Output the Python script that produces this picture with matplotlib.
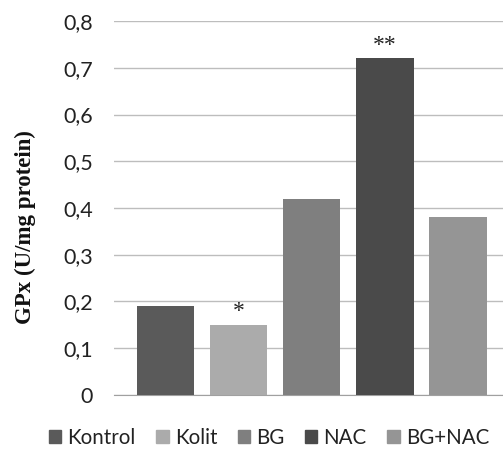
import matplotlib
matplotlib.use("Agg")
import matplotlib.pyplot as plt
from matplotlib.patches import Patch

groups = ["Kontrol", "Kolit", "BG", "NAC", "BG+NAC"]
gpx = [0.19, 0.15, 0.42, 0.72, 0.38]
marks = ["", "*", "", "**", ""]
colors = ["#5a5a5a", "#ababab", "#7f7f7f", "#4a4a4a", "#959595"]
yticks = [0, 0.1, 0.2, 0.3, 0.4, 0.5, 0.6, 0.7, 0.8]
ytick_labels = ["0", "0,1", "0,2", "0,3", "0,4", "0,5", "0,6", "0,7", "0,8"]

fig = plt.figure(figsize=(5.03, 4.54), dpi=100)
ax = fig.add_axes([0.2266, 0.13, 0.7734, 0.8237])

x = range(len(groups))
ax.bar(x, gpx, width=0.79, color=colors, zorder=3)
for xi, v, m in zip(x, gpx, marks):
    if m:
        ax.text(xi, v + 0.006, m, ha="center", va="bottom", fontsize=17,
                family="Liberation Serif", color="#222222", zorder=4)

ax.set_xlim(-0.705, 4.62)
ax.set_ylim(0, 0.8)
ax.set_yticks(yticks)
ax.set_yticklabels(ytick_labels, family="Lato", fontsize=15.5, color="#222222")
ax.tick_params(axis="y", length=0, pad=15)
ax.set_xticks([])
ax.yaxis.grid(True, color="#bdbdbd", lw=1, zorder=0)
for s in ["top", "right", "left"]:
    ax.spines[s].set_visible(False)
ax.spines["bottom"].set_color("#a0a0a0")
ax.spines["bottom"].set_zorder(2)

ax.set_ylabel("GPx (U/mg protein)", family="Liberation Serif", fontweight="bold",
              fontsize=16.5, color="#111111")
ax.yaxis.set_label_coords(-0.2, 0.45)

handles = [Patch(color=c, label=g) for c, g in zip(colors, groups)]
fig.legend(handles=handles, loc="center", bbox_to_anchor=(0.535, 0.035), ncol=5,
           frameon=False, prop={"family": "Lato", "size": 14.8},
           handlelength=0.6, handleheight=0.6, handletextpad=0.3, columnspacing=1.0,
           labelcolor="#222222")

fig.savefig("out.png", dpi=100)
